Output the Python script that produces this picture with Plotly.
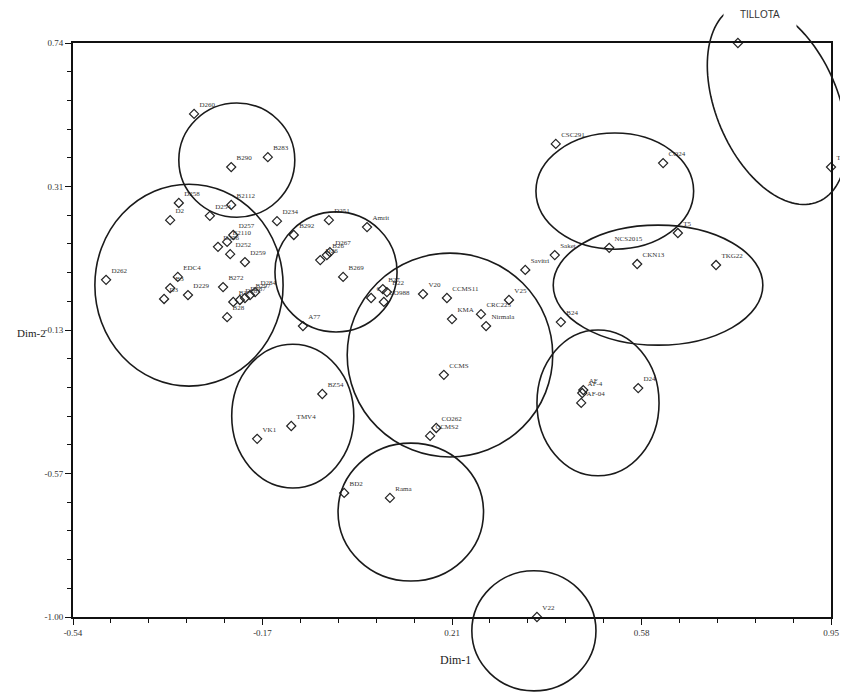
import math
import plotly.graph_objects as go

# ---------------- data ----------------
labels = ["D260", "B290", "B283", "D258", "D2", "D254", "B2112", "D234",
          "D262", "EDC4", "B3", "D3", "D229", "B272", "B27", "D281", "D287", "B297", "D284",
          "B28", "D256", "B2110", "D257", "D252", "D259",
          "B292", "D251", "Amrit", "D26", "B26", "D267", "B269", "C", "B27", "CO988", "B22",
          "A77", "V20", "CCMS11", "KMA", "CRC225", "Nirmala", "V25", "Savitri", "CCMS",
          "CSC291", "CO24", "T5", "NCS2015", "CKN13", "Saket", "TKG22", "B24",
          "AF-04", "AF-4", "AF", "D24", "VK1", "TMV4", "BZ54", "CCMS2", "CO262",
          "BD2", "Rama", "V22", "TILLOTA", "T2"]
dim1 = [-0.302, -0.229, -0.157, -0.332, -0.349, -0.271, -0.229, -0.139,
        -0.475, -0.334, -0.349, -0.361, -0.314, -0.245, -0.225, -0.212, -0.202, -0.192, -0.182,
        -0.237, -0.255, -0.237, -0.225, -0.231, -0.202,
        -0.106, -0.037, 0.038, -0.054, -0.041, -0.035, -0.009, 0.046, 0.069, 0.071, 0.077,
        -0.088, 0.148, 0.195, 0.205, 0.262, 0.272, 0.317, 0.349, 0.189,
        0.409, 0.620, 0.649, 0.514, 0.569, 0.407, 0.724, 0.419,
        0.459, 0.461, 0.463, 0.571, -0.178, -0.111, -0.050, 0.162, 0.174,
        -0.007, 0.083, 0.372, 0.767, 0.950]
dim2 = [0.525, 0.364, 0.394, 0.255, 0.203, 0.216, 0.249, 0.200,
        0.022, 0.031, -0.003, -0.036, -0.024, 0.000, -0.045, -0.039, -0.033, -0.024, -0.015,
        -0.091, 0.122, 0.137, 0.158, 0.100, 0.076,
        0.158, 0.203, 0.182, 0.082, 0.097, 0.106, 0.031, -0.033, -0.006, -0.045, -0.015,
        -0.118, -0.021, -0.033, -0.097, -0.082, -0.118, -0.039, 0.052, -0.266,
        0.434, 0.376, 0.164, 0.119, 0.070, 0.097, 0.067, -0.106,
        -0.351, -0.321, -0.312, -0.306, -0.460, -0.421, -0.324, -0.451, -0.427,
        -0.624, -0.639, -1.000, 0.740, 0.364]

# cluster ellipses: centre (dim1, dim2) and semi-axes in data units
ell_cx = [-0.218, -0.312, -0.023, 0.201, 0.525, 0.610, 0.492, -0.108, 0.124, 0.366]
ell_cy = [0.385, 0.006, 0.046, -0.206, 0.291, 0.006, -0.351, -0.391, -0.682, -1.042]
ell_rx = [0.114, 0.185, 0.120, 0.202, 0.155, 0.206, 0.120, 0.120, 0.143, 0.122]
ell_ry = [0.173, 0.306, 0.182, 0.309, 0.176, 0.182, 0.221, 0.218, 0.209, 0.182]

# tilted ellipse around TILLOTA / T2
tilt_c = (0.844, 0.555)

x_range = [-0.54, 0.95]
y_range = [-1.00, 0.74]
x_tickvals = [-0.54, -0.1675, 0.205, 0.5775, 0.95]
x_ticktext = ["-0.54", "-0.17", "0.21", "0.58", "0.95"]
y_tickvals = [-1.00, -0.565, -0.13, 0.305, 0.74]
y_ticktext = ["-1.00", "-0.57", "-0.13", "0.31", "0.74"]

# ---------------- layout geometry ----------------
# the page body adds an 8px offset, so the figure is 8px smaller
OFF = 8
W, H = 848 - OFF, 693 - OFF
ML, MR, MT, MB = 73 - OFF, 17, 43 - OFF, 76
PW, PH = W - ML - MR, H - MT - MB


def xp(v):
    return (v - x_range[0]) / (x_range[1] - x_range[0])


def yp(v):
    return (v - y_range[0]) / (y_range[1] - y_range[0])


shapes = []
for cx, cy, rx, ry in zip(ell_cx, ell_cy, ell_rx, ell_ry):
    shapes.append(dict(type="circle", xref="paper", yref="paper",
                       x0=xp(cx - rx), x1=xp(cx + rx), y0=yp(cy - ry), y1=yp(cy + ry),
                       line=dict(color="#1a1a1a", width=1.6)))

# tilted ellipse, semi-axes in pixels, tilt from vertical
a_px, b_px, th = 106, 61, math.radians(23)
pts = []
for i in range(121):
    t = 2 * math.pi * i / 120
    u, v = b_px * math.cos(t), a_px * math.sin(t)
    dx = u * math.cos(th) - v * math.sin(th)
    dy = u * math.sin(th) + v * math.cos(th)
    pts.append((xp(tilt_c[0]) + dx / PW, yp(tilt_c[1]) + dy / PH))
path = "M " + " L ".join(f"{x:.5f},{y:.5f}" for x, y in pts) + " Z"
shapes.append(dict(type="path", xref="paper", yref="paper", path=path,
                   line=dict(color="#1a1a1a", width=1.6)))

texts = [l if l != "TILLOTA" else "" for l in labels]

fig = go.Figure()
fig.add_trace(go.Scatter(
    x=dim1, y=dim2, mode="markers+text", text=texts, textposition="top right",
    textfont=dict(family="Liberation Serif", size=7, color="#333"),
    marker=dict(symbol="diamond-open", size=7, color="#222", line=dict(width=1.2)),
    cliponaxis=False, showlegend=False, hoverinfo="skip"))

ti = labels.index("TILLOTA")
annotations = [
    dict(x=dim1[ti], y=dim2[ti], xref="x", yref="y", text="TILLOTA", showarrow=False,
         xanchor="center", yanchor="middle",
         xshift=22, yshift=29, width=70, height=30, bgcolor="white",
         font=dict(family="Liberation Sans", size=10, color="#333")),
    dict(x=(455 - OFF - ML) / PW, y=(MT + PH - (660 - OFF)) / PH, xref="paper", yref="paper",
         text="Dim-1", showarrow=False, xanchor="center", yanchor="middle",
         font=dict(family="Liberation Serif", size=12, color="#222")),
    dict(x=(31 - OFF - ML) / PW, y=(MT + PH - (333 - OFF)) / PH, xref="paper", yref="paper",
         text="Dim-2", showarrow=False, xanchor="center", yanchor="middle",
         font=dict(family="Liberation Serif", size=11, color="#222")),
]

axis_common = dict(showgrid=False, zeroline=False, showline=True, linecolor="#111",
                   linewidth=1.8, mirror=True, ticks="outside", ticklen=6, tickwidth=1.3,
                   tickcolor="#111", automargin=False,
                   tickfont=dict(family="Liberation Serif", size=9, color="#333"))

fig.update_layout(
    width=W, height=H, margin=dict(l=ML, r=MR, t=MT, b=MB),
    plot_bgcolor="white", paper_bgcolor="white",
    xaxis=dict(range=x_range, tickmode="array", tickvals=x_tickvals, ticktext=x_ticktext,
               minor=dict(ticks="outside", ticklen=4, tickwidth=1, tickcolor="#111",
                          tick0=-0.54, dtick=0.0745),
               **axis_common),
    yaxis=dict(range=y_range, tickmode="array", tickvals=y_tickvals, ticktext=y_ticktext,
               minor=dict(ticks="outside", ticklen=4, tickwidth=1, tickcolor="#111",
                          tick0=-1.0, dtick=0.087),
               **axis_common),
    shapes=shapes, annotations=annotations,
)

fig.write_html("out.html")
